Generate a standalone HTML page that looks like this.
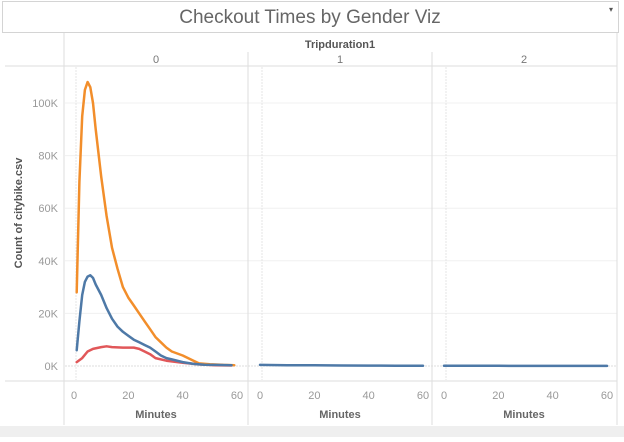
<!DOCTYPE html>
<html><head><meta charset="utf-8"><style>
body{margin:0;background:#fff;width:624px;height:437px;overflow:hidden;font-family:"Liberation Sans",sans-serif}
</style></head><body>
<svg width="624" height="437" xmlns="http://www.w3.org/2000/svg">
<rect x="0" y="426" width="624" height="11" fill="#efefef"/>
<rect x="2.5" y="1.5" width="616" height="31" fill="#fff" stroke="#d4d4d4"/>
<text x="310" y="23" text-anchor="middle" font-size="19" fill="#666">Checkout Times by Gender Viz</text>
<text x="609" y="12" font-size="8" fill="#555">▾</text>
<text x="340" y="48" text-anchor="middle" font-size="11" font-weight="bold" fill="#555">Tripduration1</text>
<g id="g"></g>
<text transform="translate(22,213) rotate(-90)" text-anchor="middle" font-size="11" font-weight="bold" fill="#555">Count of citybike.csv</text>
</svg>
<script>
const panels=["0","1","2"];
const ticksY=[0,20000,40000,60000,80000,100000];
const tickYLabels=["0K","20K","40K","60K","80K","100K"];
const ticksX=[0,20,40,60];
const orangeX=[1,2,3,4,5,6,7,8,10,12,14,16,18,20,22,24,26,28,30,32,34,36,40,44,46,50,55,59];
const orangeY=[28000,70000,95000,105000,108000,106000,100000,90000,72000,57000,45000,37000,30000,26000,23000,20000,17000,14000,11000,9000,7000,5500,4000,2000,1000,700,400,300];
const blueX=[1,2,3,4,5,6,7,8,10,12,14,16,18,20,22,24,26,28,30,32,34,36,40,44,48,52,58];
const blueY=[6000,17000,27000,32000,34000,34500,33500,31000,27000,22000,18000,15000,13000,11500,10000,9000,8000,7000,5500,4000,3000,2500,1500,800,500,400,300];
const redX=[1,3,5,7,10,12,14,18,22,24,26,28,30,34,40,46,52,58];
const redY=[1500,3000,5500,6500,7200,7500,7200,7000,7000,6500,5500,4500,3000,2000,1200,600,300,200];
const blue1X=[0,10,20,30,40,50,60];
const blue1Y=[400,300,250,200,150,120,100];
const blue2X=[0,10,20,30,40,50,60];
const blue2Y=[80,70,60,50,50,40,40];
const NS="http://www.w3.org/2000/svg";
const g=document.getElementById('g');
function y(v){return 366-v*(263/100000);}
const x0=[74,260,444];
function x(p,v){return x0[p]+v*(163/60);}
function el(t,a,parent){const e=document.createElementNS(NS,t);for(const k in a)e.setAttribute(k,a[k]);(parent||g).appendChild(e);return e;}
// y gridlines
ticksY.forEach((t,i)=>{
 const l=el('line',{x1:65,x2:617,y1:y(t),y2:y(t),stroke:t===0?'#ddd':'#f0f0f0','stroke-dasharray':t===0?'2,1':''});
 
 
 const tx=el('text',{x:58,y:y(t)+4,'text-anchor':'end','font-size':11,fill:'#999'});tx.textContent=tickYLabels[i];
 
 
});
// frame lines
[[64,33,64,425],[248,52,248,425],[432,52,432,425],[617,33,617,425]].forEach(a=>{
 const l=el('line',{x1:a[0],y1:a[1],x2:a[2],y2:a[3],stroke:'#ddd'});
 
 
});
[[5,66,617,66],[5,381,617,381]].forEach(a=>{
 const l=el('line',{x1:a[0],y1:a[1],x2:a[2],y2:a[3],stroke:'#ddd'});
 
 
});
panels.forEach((p,i)=>{
 const cx=[156,340,524][i];
 const h=el('text',{x:cx,y:63,'text-anchor':'middle','font-size':11,fill:'#777'});h.textContent=p;
 
 
 const zl=el('line',{x1:x(i,0)+2,x2:x(i,0)+2,y1:67,y2:380,stroke:'#e4e4e4','stroke-dasharray':'2,1'});
 
 
 ticksX.forEach(t=>{
  const tx=el('text',{x:x(i,t),y:399,'text-anchor':'middle','font-size':11,fill:'#999'});tx.textContent=t;
  
  
 });
 const at=el('text',{x:cx,y:418,'text-anchor':'middle','font-size':11,'font-weight':'bold',fill:'#666'});at.textContent='Minutes';
 
 
});
function line(p,xs,ys,c,name){
 const d=xs.map((v,i)=>(i?'L':'M')+x(p,v).toFixed(1)+','+y(ys[i]).toFixed(1)).join('');
 const pa=el('path',{d:d,fill:'none',stroke:c,'stroke-width':2.5,'stroke-linejoin':'round','stroke-linecap':'round'});
 
 
}
line(0,redX,redY,'#e15759','series-red-line');
line(0,orangeX,orangeY,'#f28e2b','series-orange-line');
line(0,blueX,blueY,'#4e79a7','series-blue-line');
line(1,blue1X,blue1Y,'#4e79a7','series-blue-line-panel1');
line(2,blue2X,blue2Y,'#4e79a7','series-blue-line-panel2');
</script>
</body></html>
